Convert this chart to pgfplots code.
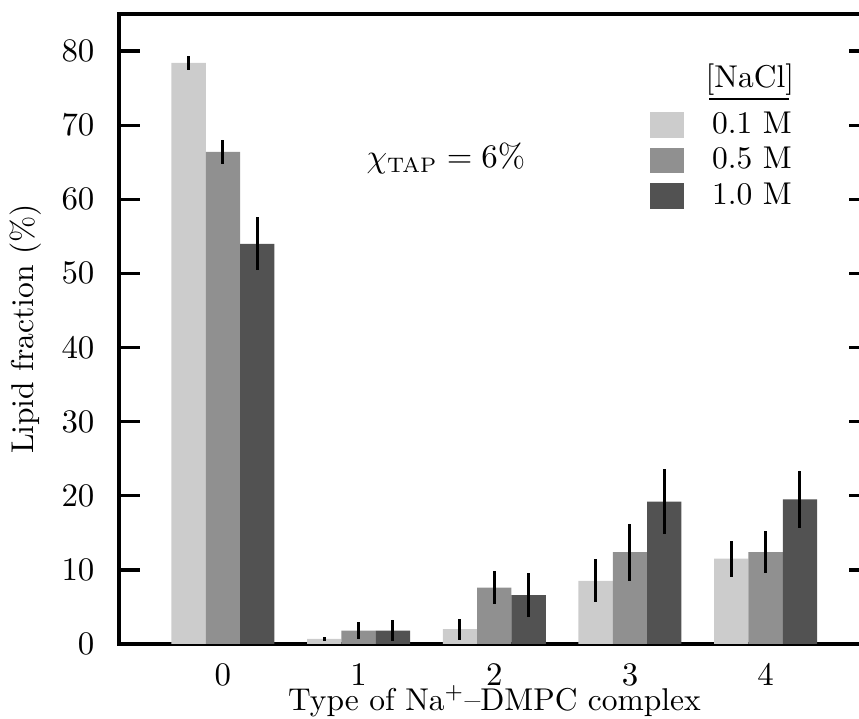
\documentclass[border=0pt]{standalone}
\usepackage{pgfplots}
\pgfplotsset{compat=1.18}
\definecolor{lightbar}{gray}{0.80}
\definecolor{midbar}{gray}{0.565}
\definecolor{darkbar}{gray}{0.32}
\begin{document}
\begin{tikzpicture}[font=\fontsize{10.5pt}{12.6pt}\selectfont]
\begin{axis}[
  width=250.33pt, height=210pt,
  scale only axis,
  ybar,
  bar width=0.253,
  xmin=-0.766, xmax=4.769,
  ymin=0, ymax=85,
  xtick={0,1,2,3,4},
  ytick={0,10,20,30,40,50,60,70,80},
  axis line style={line width=1.1pt},
  tick style={line width=1.1pt, black},
  major tick length=7pt,
  tick align=inside,
  xtick style={draw=none},
  tick label style={font=\fontsize{10.5pt}{12.6pt}\selectfont},
  label style={font=\fontsize{10.5pt}{12.6pt}\selectfont},
  yticklabel style={inner sep=0pt, anchor=east, xshift=-8pt},
  xticklabel style={inner sep=0pt, anchor=north, yshift=-6.5pt},
  xlabel={Type of Na$^{+}$--DMPC complex},
  ylabel={Lipid fraction (\%)},
  xlabel style={at={(axis description cs:0.5,0)}, anchor=base, yshift=-22.3pt},
  ylabel style={at={(axis description cs:-0.1238,0.5)}, anchor=center},
  legend style={draw=none, fill=none, inner sep=0pt, outer sep=0pt,
     at={(axis description cs:0.7071,0.8445)}, anchor=north west,
     font=\fontsize{10.5pt}{12.6pt}\selectfont,
     row sep=3.17pt, column sep=9.33pt, nodes={inner sep=0pt}, cells={anchor=west}},
  legend image code/.code={\fill[#1] (0pt,-4.33pt) rectangle (11.33pt,4.33pt);},
  error bars/y dir=both,
  error bars/y explicit,
  error bars/error mark=none,
  error bars/error bar style={draw=black, line width=1pt},
]
\addplot[fill=lightbar, draw=none, bar shift=-0.253] coordinates {
  (0,78.4) +- (0,1.0)
  (1,0.7) +- (0,0.3)
  (2,2.0) +- (0,1.4)
  (3,8.5) +- (0,2.9)
  (4,11.5) +- (0,2.45)
};
\addplot[fill=midbar, draw=none, bar shift=0] coordinates {
  (0,66.4) +- (0,1.6)
  (1,1.8) +- (0,1.1)
  (2,7.6) +- (0,2.2)
  (3,12.4) +- (0,3.85)
  (4,12.4) +- (0,2.8)
};
\addplot[fill=darkbar, draw=none, bar shift=0.253] coordinates {
  (0,54.0) +- (0,3.6)
  (1,1.8) +- (0,1.45)
  (2,6.6) +- (0,2.95)
  (3,19.2) +- (0,4.4)
  (4,19.5) +- (0,3.9)
};
\legend{0.1 M, 0.5 M, 1.0 M}
\node[anchor=base] at (axis description cs:0.840,0.8833) {[NaCl]};
\draw[line width=0.55pt] (axis description cs:0.7857,0.865) -- (axis description cs:0.892,0.865);
\node[anchor=base] at (axis description cs:0.4354,0.757) {$\chi_{\mathrm{TAP}} = 6\%$};
\end{axis}
\pgfresetboundingbox
\path[use as bounding box] (-39.67pt,-25pt) rectangle (246.67pt,214.67pt);
\end{tikzpicture}
\end{document}
